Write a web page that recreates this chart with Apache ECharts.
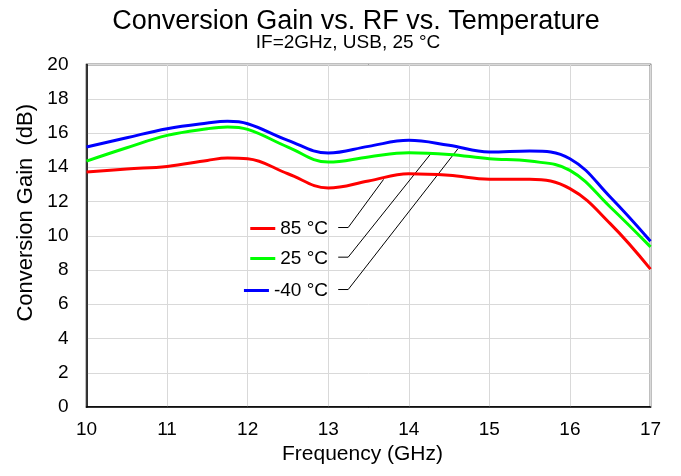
<!DOCTYPE html>
<html><head><meta charset="utf-8">
<script src="https://cdn.jsdelivr.net/npm/echarts@6/dist/echarts.min.js"></script>
<style>html,body{margin:0;padding:0;background:#fff}#c{width:681px;height:476px}</style>
</head><body><div id="c"></div>
<script>
const freq = [10, 10.5, 11, 11.5, 11.75, 12, 12.5, 13, 13.5, 14, 14.5, 15, 15.5, 16, 16.5, 17];
const gain85 = [13.72, 13.9, 14.05, 14.4, 14.54, 14.5, 13.62, 12.79, 13.2, 13.62, 13.53, 13.3, 13.3, 12.75, 10.71, 8.05];
const gain25 = [14.36, 15.14, 15.86, 16.25, 16.35, 16.21, 15.18, 14.3, 14.6, 14.85, 14.75, 14.5, 14.36, 13.82, 11.68, 9.35];
const gainM40 = [15.18, 15.72, 16.25, 16.58, 16.68, 16.54, 15.57, 14.83, 15.22, 15.57, 15.28, 14.89, 14.95, 14.5, 12.26, 9.68];
const seriesNames = ['85 °C', '25 °C', '-40 °C'];
const colors = ['#ff0000', '#00ff00', '#0000ff'];
// leader lines (data coordinates): [x,y] points
const leader85 = [[13.124, 10.48], [13.248, 10.48], [13.687, 13.29]];
const leader25 = [[13.124, 8.75], [13.248, 8.75], [14.28, 14.83]];
const leaderM40 = [[13.124, 6.86], [13.248, 6.86], [14.61, 15.08]];
const xTicks = {min: 10, max: 17, interval: 1};
const yTicks = {min: 0, max: 20, interval: 2};

const FONT = 'Liberation Sans, Arial, sans-serif';
const chart = echarts.init(document.getElementById('c'), null, {renderer: 'canvas'});
const pair = (xs, ys) => xs.map((x, i) => [x, ys[i]]);
const dataSets = [gain85, gain25, gainM40];
const leaders = [leader85, leader25, leaderM40];
const legendTops = [219, 249, 281];

const series = [];
leaders.forEach(l => series.push({
  type: 'line', data: l, symbol: 'none', silent: true,
  lineStyle: {color: '#000', width: 1}, z: 1
}));
dataSets.forEach((d, i) => series.push({
  name: seriesNames[i], type: 'line', data: pair(freq, d), symbol: 'none', smooth: 0.4,
  lineStyle: {color: colors[i], width: 3}, itemStyle: {color: colors[i]}, z: 3
}));

chart.setOption({
  animation: false,
  backgroundColor: '#fff',
  title: [{
    text: 'Conversion Gain vs. RF vs. Temperature',
    left: 356, textAlign: 'center', top: 8, padding: 0,
    textStyle: {fontFamily: FONT, fontSize: 27, fontWeight: 'normal', color: '#000'}
  }, {
    text: 'IF=2GHz, USB, 25 °C',
    left: 348, textAlign: 'center', top: 33, padding: 0,
    textStyle: {fontFamily: FONT, fontSize: 19, fontWeight: 'normal', color: '#000'}
  }],
  legend: seriesNames.map((n, i) => ({
    data: [{name: n, icon: 'rect'}], orient: 'vertical',
    right: 681 - 328, top: legendTops[i], padding: 0,
    itemWidth: 25, itemHeight: 3, itemGap: 0,
    textStyle: {fontFamily: FONT, fontSize: 19, color: '#000'},
    selectedMode: false
  })),
  grid: {left: 86.5, right: 30.5, top: 64.5, bottom: 69, show: true, borderColor: '#000', borderWidth: 1.5},
  xAxis: {
    type: 'value', min: xTicks.min, max: xTicks.max, interval: xTicks.interval,
    name: 'Frequency (GHz)', nameLocation: 'middle', nameGap: 37,
    nameTextStyle: {fontFamily: FONT, fontSize: 21, color: '#000', padding: [0, 12, 0, 0]},
    axisLine: {show: true, lineStyle: {color: '#000', width: 1.5}},
    axisTick: {show: false},
    axisLabel: {fontFamily: FONT, fontSize: 19, color: '#000', margin: 13},
    splitLine: {show: true, lineStyle: {color: '#d9d9d9', width: 1}}
  },
  yAxis: {
    type: 'value', min: yTicks.min, max: yTicks.max, interval: yTicks.interval,
    name: 'Conversion Gain  (dB)', nameLocation: 'middle', nameGap: 47,
    nameTextStyle: {fontFamily: FONT, fontSize: 22, color: '#000', padding: [0, 0, 0, 46]},
    axisLine: {show: true, lineStyle: {color: '#000', width: 1.5}},
    axisTick: {show: false},
    axisLabel: {fontFamily: FONT, fontSize: 19, color: '#000', margin: 18},
    splitLine: {show: true, lineStyle: {color: '#d9d9d9', width: 1}}
  },
  series: series
});
</script></body></html>
